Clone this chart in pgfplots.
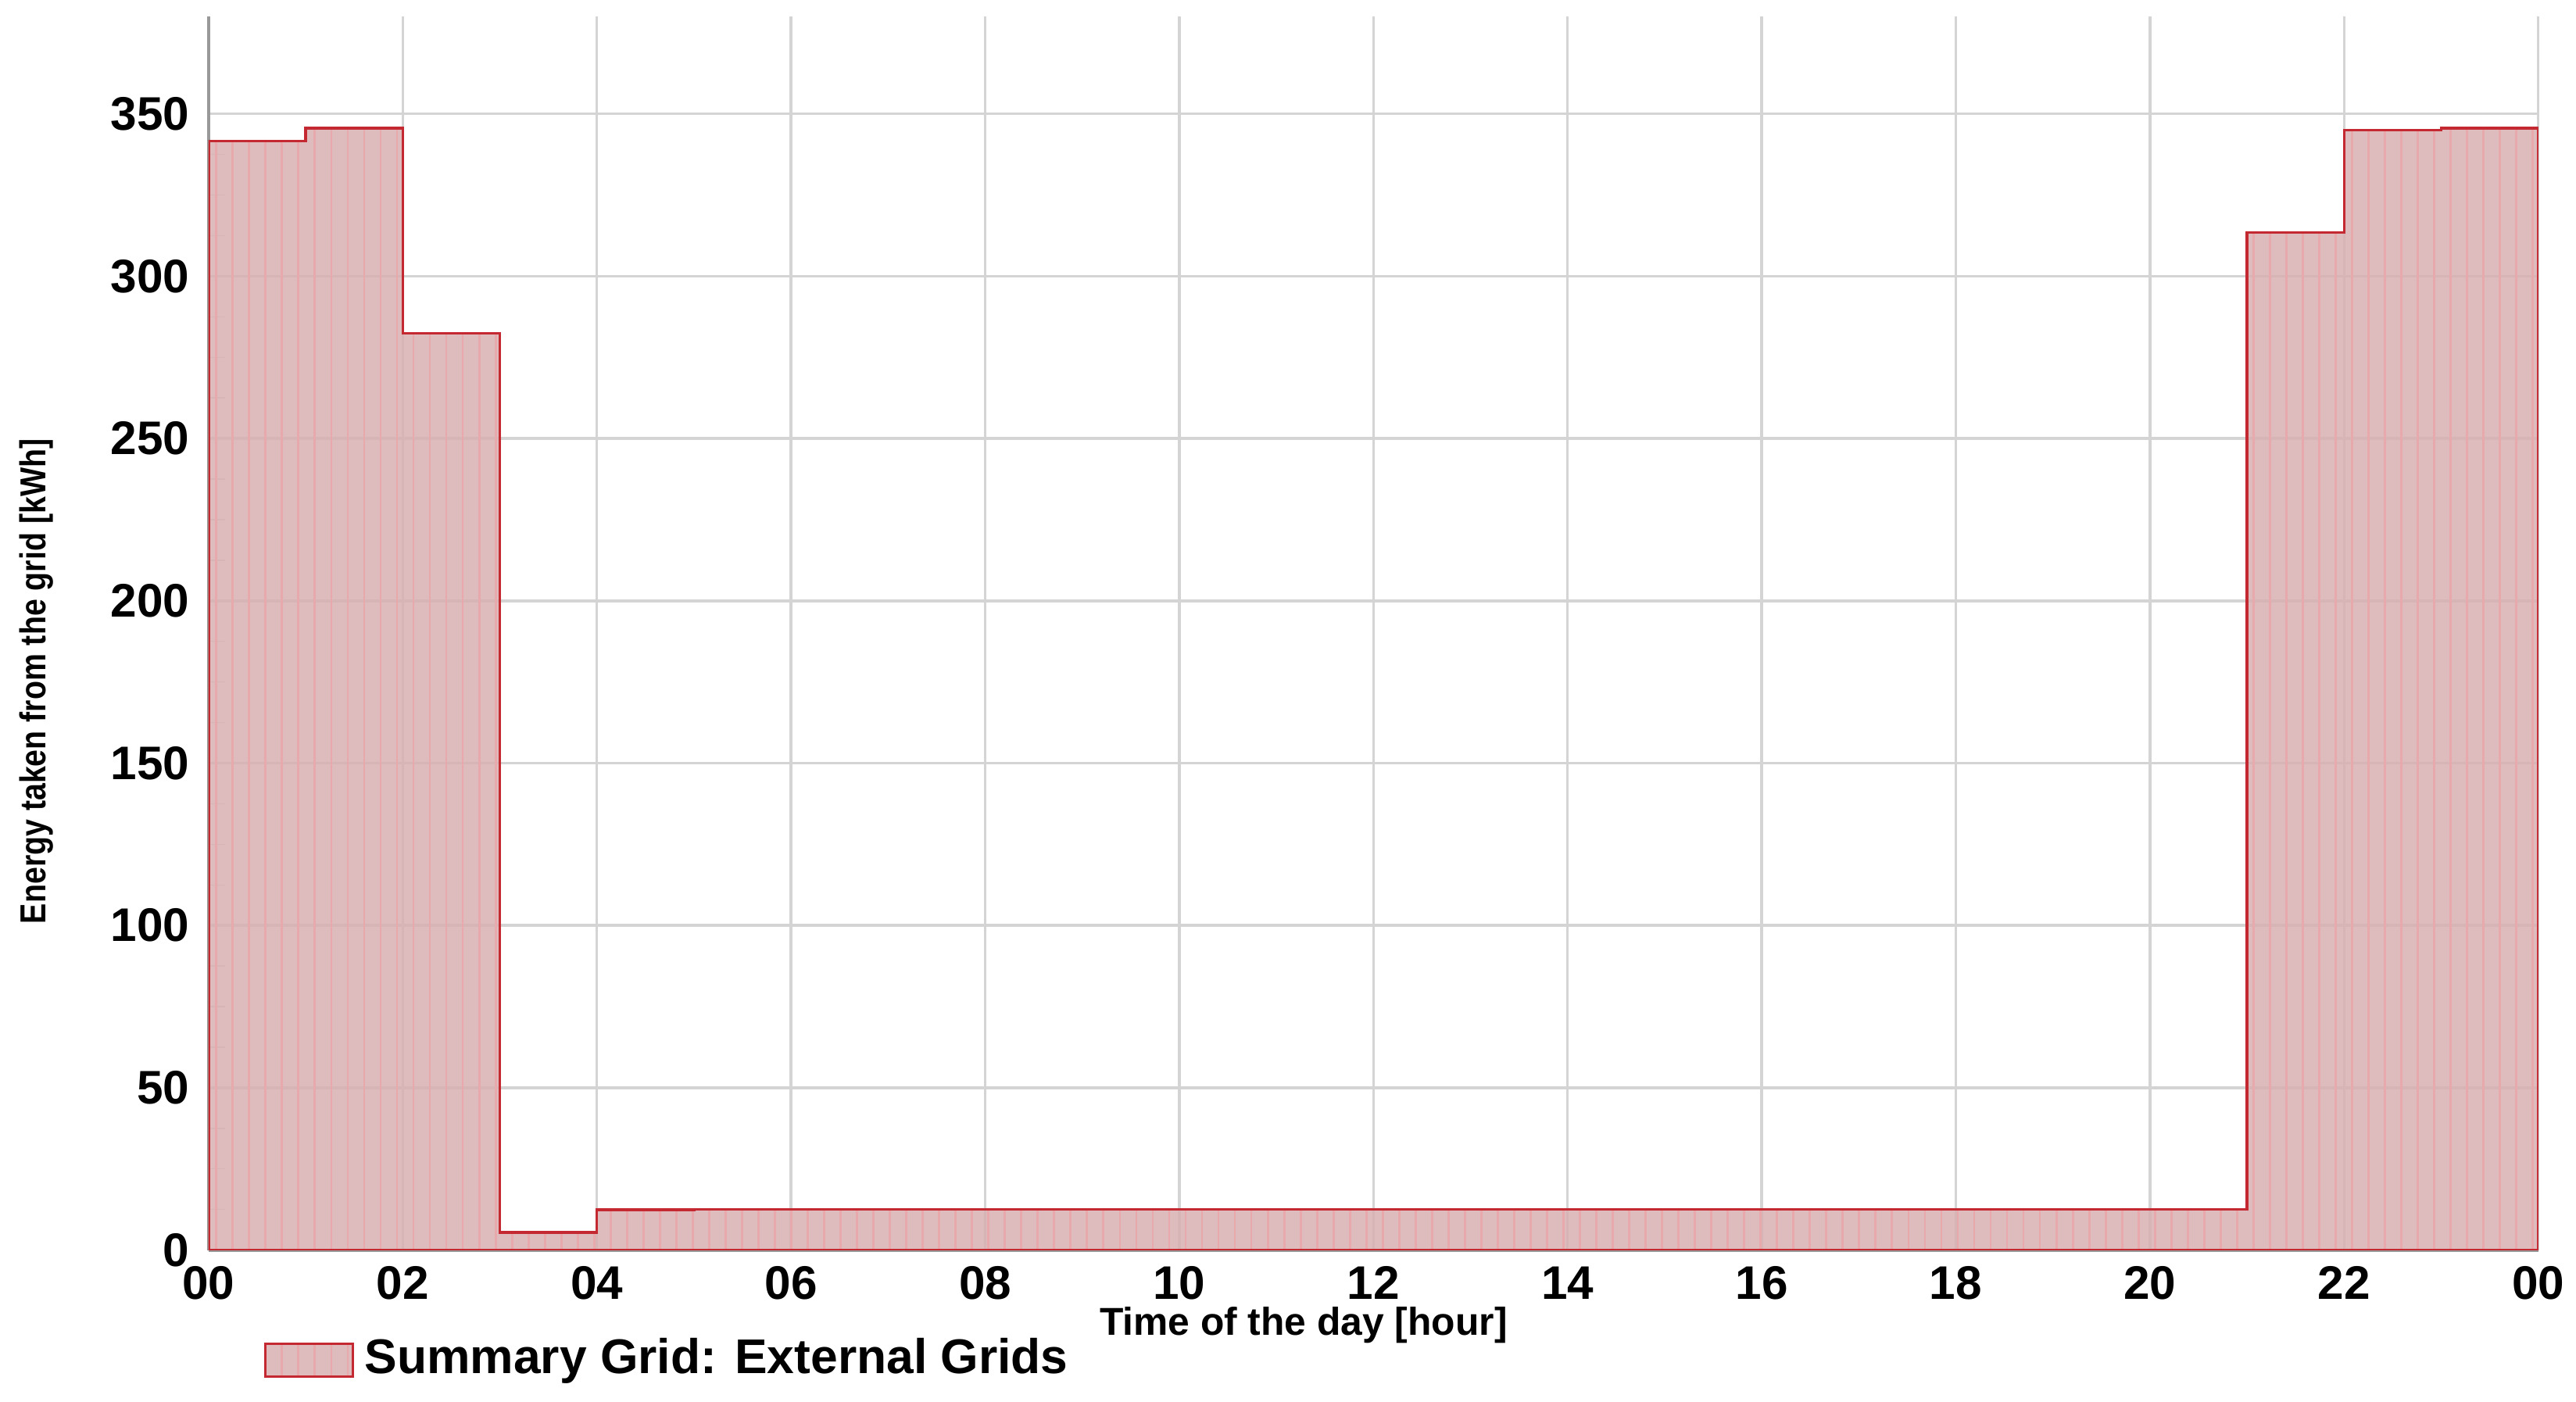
\documentclass[border=0pt]{standalone}
\usepackage{fontspec}
\setmainfont{Liberation Sans}
\newfontfamily\narrowfont[FakeStretch=0.85]{Liberation Sans}
\usepackage{pgfplots}
\pgfplotsset{compat=1.18}
\usetikzlibrary{calc,patterns}
\definecolor{gridfill}{RGB}{216,176,178}
\definecolor{gridline}{RGB}{196,40,48}
\definecolor{lightgrid}{RGB}{212,212,212}

\begin{document}
\begin{tikzpicture}
\begin{axis}[
    scale only axis,
    width=425.4pt, height=225.3pt,
    xmin=0, xmax=24, ymin=0, ymax=380,
    axis x line*=bottom, axis y line*=left,
    axis line style={draw=gray!80, line width=0.6pt},
    xtick={0,2,...,24},
    xticklabels={00,02,04,06,08,10,12,14,16,18,20,22,00},
    ytick={0,50,...,350},
    minor y tick num=3,
    tick align=inside,
    major tick length=0pt, minor tick length=3pt,
    every minor tick/.style={draw=lightgrid},
    grid=major,
    grid style={draw=lightgrid, line width=0.5pt},
    ticklabel style={font=\fontsize{8.6}{10}\selectfont\bfseries},
    /pgf/number format/assume math mode=true,
    xticklabel style={yshift=0.5pt},
    yticklabel style={xshift=0pt},
    xlabel={Time of the day [hour]},
    every axis x label/.style={at={(axis description cs:0.47,-0.061)}, anchor=center,
        font=\fontsize{7.1}{8}\selectfont\bfseries},
    ylabel={Energy taken from the grid [kWh]},
    every axis y label/.style={at={(axis description cs:-0.074,0.461)}, rotate=90, anchor=center,
        font=\narrowfont\fontsize{6.6}{8}\selectfont\bfseries},
    legend style={at={(axis description cs:0.0233,-0.089)}, anchor=west, draw=none, fill=none,
        font=\fontsize{8.9}{10}\selectfont\bfseries, inner sep=0pt},
    legend image code/.code={\draw[fill=gridfill, draw=gridline, line width=0.4pt] (0pt,-3pt) rectangle (16pt,3pt);},
    legend cell align=left,
]
\addplot[const plot, draw=gridline, line width=0.5pt, fill=gridfill, fill opacity=0.85,
    postaction={pattern=vertical lines, pattern color=gridline!40}]
coordinates {
    (0,341.6) (1,345.6) (2,282.4) (3,5.5) (4,12.4) (5,12.6) (6,12.6) (7,12.6)
    (8,12.6) (9,12.6) (10,12.6) (11,12.6) (12,12.6) (13,12.6) (14,12.6)
    (15,12.6) (16,12.6) (17,12.6) (18,12.6) (19,12.6) (20,12.6)
    (21,313.4) (22,345.0) (23,345.6) (24,345.6)
} \closedcycle;
\addlegendentry{Summary Grid: External Grids}
\coordinate (sw) at (rel axis cs:0,0);
\coordinate (ne) at (rel axis cs:1,1);
\end{axis}
\pgfresetboundingbox
\path ($(sw)+(-38.1pt,-27.6pt)$) rectangle ($(ne)+(6.9pt,3pt)$);
\end{tikzpicture}
\end{document}
